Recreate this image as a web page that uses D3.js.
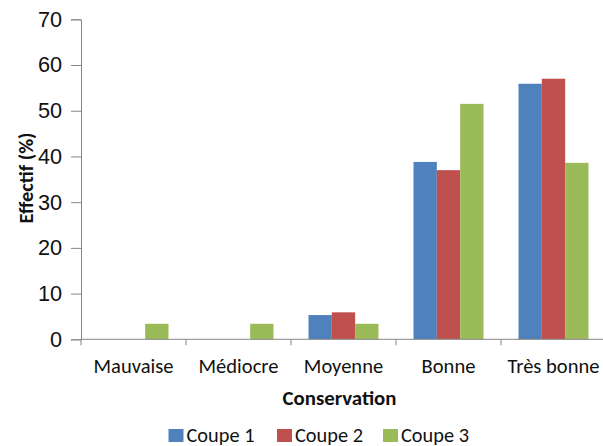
<!DOCTYPE html>
<html>
<head>
<meta charset="utf-8">
<script src="https://cdn.jsdelivr.net/npm/d3@7"></script>
<style>
  html, body { margin: 0; padding: 0; background: #fff; }
  svg { display: block; font-family: Carlito, Calibri, Lato, sans-serif; }
</style>
</head>
<body>
<svg id="chart" width="603" height="446"></svg>
<script>
// Conservation classes and the share of trees (%) in each, per cut
const categories = ["Mauvaise", "Médiocre", "Moyenne", "Bonne", "Très bonne"];
const seriesNames = ["Coupe 1", "Coupe 2", "Coupe 3"];
const coupe1 = [0, 0, 5.3, 38.8, 55.9];
const coupe2 = [0, 0, 5.9, 37.0, 57.0];
const coupe3 = [3.4, 3.4, 3.4, 51.5, 38.6];
const yTicks = [0, 10, 20, 30, 40, 50, 60, 70];
const colors = ["#4F81BD", "#C0504D", "#9BBB59"];

const seriesValues = [coupe1, coupe2, coupe3];
const rows = categories.map((c, i) => ({
  category: c,
  values: seriesNames.map((s, j) => ({ series: s, value: seriesValues[j][i] }))
}));

const svg = d3.select("#chart");
const margin = { left: 81, top: 19.3, right: -3, bottom: 106.7 };
const W = 603, H = 446;
const plotW = W - margin.left - margin.right;
const plotH = H - margin.top - margin.bottom;

// Pick a font size so that a sample string renders at the wanted width
function fitSize(sample, width, weight) {
  const t = svg.append("text").attr("font-weight", weight || "normal")
    .style("font-size", "100px").text(sample);
  const w = t.node().getComputedTextLength();
  t.remove();
  return 100 * width / w;
}
const tickSize = fitSize("70", 22);
const catSize = fitSize("Mauvaise", 80);
const titleSize = fitSize("Conservation", 114, "bold");
const yTitleSize = fitSize("Effectif (%)", 91, "bold");
const legendSize = fitSize("Coupe 1", 68);

const x0 = d3.scaleBand().domain(categories).range([0, plotW]).paddingInner(0).paddingOuter(0);
const x1 = d3.scaleBand().domain(seriesNames)
  .range([x0.bandwidth() / 6, x0.bandwidth() * 5 / 6]).padding(0);
const y = d3.scaleLinear().domain([0, 70]).range([plotH, 0]);

const g = svg.append("g").attr("transform", `translate(${margin.left},${margin.top})`);

// bars
const groups = g.selectAll("g.cat").data(rows).join("g")
  .attr("class", "cat")
  .attr("transform", d => `translate(${x0(d.category)},0)`);
groups.selectAll("rect").data(d => d.values).join("rect")
  .attr("x", d => x1(d.series))
  .attr("y", d => y(d.value))
  .attr("width", x1.bandwidth())
  .attr("height", d => plotH - y(d.value))
  .attr("fill", (d, i) => colors[i]);

// y axis
const yAxis = g.append("g")
  .call(d3.axisLeft(y).tickValues(yTicks).tickSize(10).tickPadding(9));
yAxis.select(".domain").attr("stroke", "#868686");
yAxis.selectAll(".tick line").attr("stroke", "#868686");
yAxis.selectAll(".tick text").attr("fill", "#111")
  .attr("font-family", null)
  .style("font-size", tickSize + "px");

// x axis: ticks between categories
const xAxis = g.append("g").attr("transform", `translate(0,${plotH})`);
xAxis.append("line").attr("x1", 0).attr("x2", plotW).attr("y1", 0).attr("y2", 0)
  .attr("stroke", "#868686");
const boundaries = d3.range(categories.length + 1).map(i => i * x0.bandwidth());
xAxis.selectAll("line.tk").data(boundaries).join("line")
  .attr("class", "tk")
  .attr("x1", d => d).attr("x2", d => d).attr("y1", 0).attr("y2", 6)
  .attr("stroke", "#868686");
xAxis.selectAll("text.cat").data(categories).join("text")
  .attr("class", "cat")
  .attr("x", d => x0(d) + x0.bandwidth() / 2)
  .attr("y", 34)
  .attr("text-anchor", "middle")
  .attr("fill", "#111")
  .style("font-size", catSize + "px")
  .text(d => d);

// axis titles
g.append("text")
  .attr("x", (W - margin.left - 3) / 2 - 1)
  .attr("y", plotH + 65.5)
  .attr("text-anchor", "middle")
  .attr("font-weight", "bold")
  .attr("fill", "#111")
  .style("font-size", titleSize + "px")
  .text("Conservation");

svg.append("text")
  .attr("transform", "translate(32.5,178) rotate(-90)")
  .attr("text-anchor", "middle")
  .attr("font-weight", "bold")
  .attr("fill", "#111")
  .style("font-size", yTitleSize + "px")
  .text("Effectif (%)");

// legend
const legendX = [168.5, 277, 383];
const legend = svg.append("g").selectAll("g").data(seriesNames).join("g")
  .attr("transform", (d, i) => `translate(${legendX[i]},429)`);
legend.append("rect").attr("width", 15).attr("height", 13).attr("fill", (d, i) => colors[i]);
legend.append("text").attr("x", 18).attr("y", 12.5)
  .attr("fill", "#111")
  .style("font-size", legendSize + "px")
  .text(d => d);
</script>
</body>
</html>
